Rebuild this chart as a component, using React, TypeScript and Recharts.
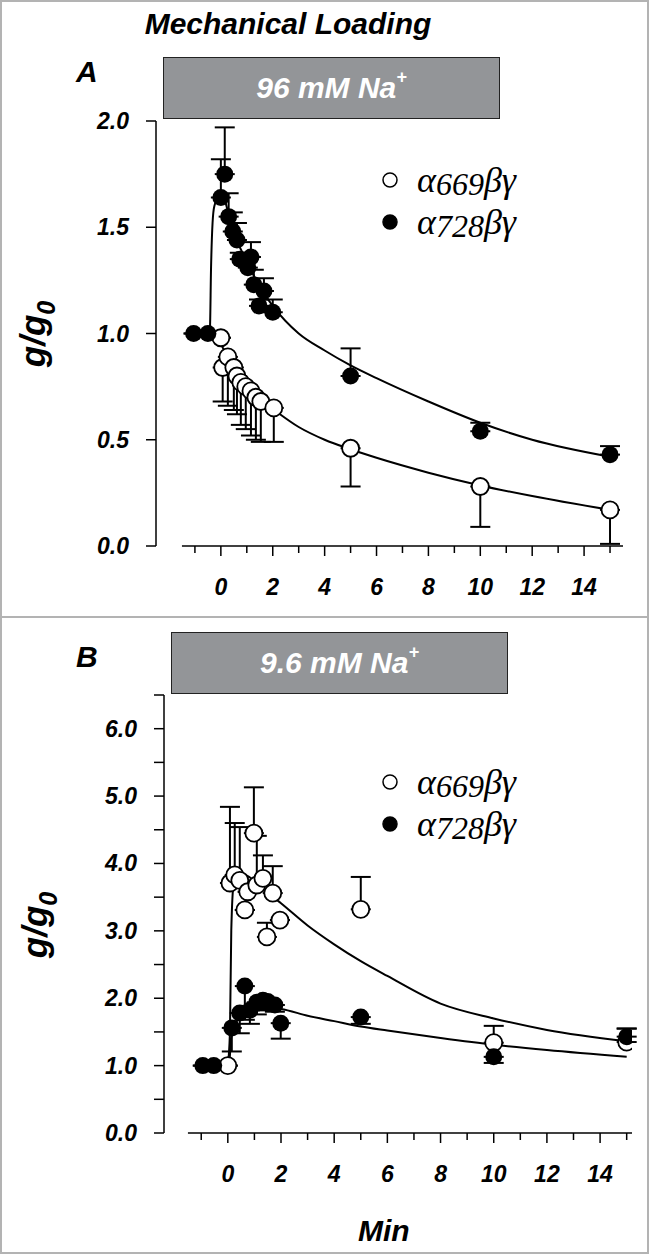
import React from 'react'
import {
  ComposedChart,
  Scatter,
  Line,
  XAxis,
  YAxis,
  ErrorBar,
  ReferenceLine,
} from 'recharts'

// ── data ────────────────────────────────────────────────────────────────────

const xTicks = [-1, 0, 1, 2, 3, 4, 5, 6, 7, 8, 9, 10, 11, 12, 13, 14, 15]
const yTicksA = [0, 0.5, 1, 1.5, 2]
const yTicksB = [0, 0.5, 1, 1.5, 2, 2.5, 3, 3.5, 4, 4.5, 5, 5.5, 6, 6.5]

// Panel A – 96 mM Na+
const a728X = [-1.05, -0.5, 0.0, 0.15, 0.3, 0.46, 0.62, 0.73, 1.04, 1.16, 1.27, 1.47, 1.66, 2.0, 5, 10, 15]
const a728Y = [1.0, 1.0, 1.64, 1.75, 1.55, 1.48, 1.44, 1.35, 1.31, 1.36, 1.23, 1.13, 1.2, 1.1, 0.8, 0.54, 0.43]
const a728Up = [0, 0, 0.18, 0.22, 0.11, 0.09, 0.08, 0.03, 0.03, 0.07, 0.07, 0.03, 0.06, 0.06, 0.13, 0.04, 0.04]

const a669X = [0.0, 0.07, 0.27, 0.5, 0.62, 0.77, 0.96, 1.16, 1.35, 1.54, 2.04, 5, 10, 15]
const a669Y = [0.98, 0.84, 0.89, 0.84, 0.8, 0.77, 0.75, 0.73, 0.7, 0.68, 0.65, 0.46, 0.28, 0.17]
const a669Down = [0, 0.16, 0.23, 0.2, 0.18, 0.2, 0.2, 0.21, 0.2, 0.19, 0.16, 0.18, 0.19, 0.16]

const fitA728X = [-0.5, -0.42, -0.38, -0.32, -0.25, 0, 0.5, 1, 1.5, 2, 3, 4, 5, 6, 8, 10, 12, 15]
const fitA728Y = [1.0, 1.03, 1.3, 1.52, 1.6, 1.66, 1.47, 1.34, 1.22, 1.13, 1.0, 0.92, 0.85, 0.79, 0.68, 0.58, 0.5, 0.42]
const fitA669X = [0, 0.5, 1, 1.5, 2, 3, 4, 5, 6, 8, 10, 12, 15]
const fitA669Y = [0.95, 0.84, 0.76, 0.69, 0.645, 0.56, 0.5, 0.455, 0.415, 0.345, 0.285, 0.235, 0.17]

// Panel B – 9.6 mM Na+
const b669X = [0.0, 0.08, 0.26, 0.45, 0.64, 0.75, 0.98, 1.09, 1.32, 1.47, 1.69, 1.96, 5, 10, 15]
const b669Y = [1.0, 3.71, 3.83, 3.75, 3.31, 3.58, 4.45, 3.68, 3.78, 2.91, 3.56, 3.16, 3.32, 1.34, 1.35]
const b669Up = [0, 1.13, 0.77, 0.79, 0, 0, 0.68, 0.73, 0.34, 0.21, 0.4, 0, 0.48, 0.25, 0.2]

const b728X = [-0.94, -0.53, 0.15, 0.45, 0.64, 0.83, 1.09, 1.32, 1.5, 1.77, 1.99, 5, 10, 15]
const b728Y = [1.0, 1.0, 1.56, 1.78, 2.18, 1.82, 1.94, 1.97, 1.95, 1.9, 1.63, 1.72, 1.13, 1.43]
const b728Down = [0, 0, 0.35, 0.3, 0.5, 0.2, 0.18, 0.15, 0.12, 0.1, 0.23, 0.1, 0.09, 0]
const b728Up = [0, 0, 0, 0, 0, 0, 0, 0, 0, 0, 0, 0, 0, 0.12]

const fitB669X = [0.0, 0.08, 0.13, 0.22, 0.4, 0.8, 1.2, 2, 3, 4, 5, 6, 8, 10, 12, 15]
const fitB669Y = [1.0, 1.5, 3.0, 3.7, 3.86, 3.8, 3.66, 3.41, 3.08, 2.8, 2.55, 2.33, 1.92, 1.7, 1.53, 1.36]
const fitB728X = [-0.5, 0.05, 0.12, 0.25, 0.5, 1, 1.5, 2, 3, 4, 5, 6, 8, 10, 12, 15]
const fitB728Y = [1.0, 1.02, 1.4, 1.6, 1.72, 1.82, 1.86, 1.84, 1.74, 1.66, 1.58, 1.52, 1.41, 1.31, 1.23, 1.13]

// ── helpers ─────────────────────────────────────────────────────────────────

const pts = (xs: number[], ys: number[], lo: number[], hi: number[]) =>
  xs.map((x, i) => ({ x, y: ys[i], err: [lo[i] ?? 0, hi[i] ?? 0] }))
const line = (xs: number[], ys: number[]) => xs.map((x, i) => ({ x, y: ys[i] }))
const zeros = (n: number) => new Array(n).fill(0)

const sans = '"Liberation Sans", Arial, sans-serif'
const serif = '"Liberation Serif", "Times New Roman", serif'
const tickFont = { fontFamily: sans, fontWeight: 700, fontStyle: 'italic', fontSize: 23 }

const OpenDot = (p: any) => (
  <circle cx={p.cx} cy={p.cy} r={8.5} fill="#fff" stroke="#000" strokeWidth={1.8} />
)
const FilledDot = (p: any) => <circle cx={p.cx} cy={p.cy} r={8.5} fill="#000" />

const XTick = (p: any) => {
  const v = p.payload.value
  const major = v % 2 === 0
  return (
    <g>
      <line x1={p.x} x2={p.x} y1={p.y} y2={p.y + (major ? 10 : 7)} stroke="#000" strokeWidth={1.5} />
      {major && (
        <text x={p.x} y={p.y + 49} textAnchor="middle" style={tickFont}>
          {v}
        </text>
      )}
    </g>
  )
}

const makeYTick = (labelEvery: number) => (p: any) => {
  const v = p.payload.value
  const show = Math.abs(v / labelEvery - Math.round(v / labelEvery)) < 1e-6
  return (
    <g>
      <line x1={p.x - 10} x2={p.x} y1={p.y} y2={p.y} stroke="#000" strokeWidth={1.5} />
      {show && (
        <text x={p.x - 27} y={p.y + 8} textAnchor="end" style={tickFont}>
          {v.toFixed(1)}
        </text>
      )}
    </g>
  )
}

function Panel(props: {
  top: number
  margin: { top: number; left: number; right: number; bottom: number }
  xDomain: [number, number]
  xEnd: number
  yDomain: [number, number]
  yTicks: number[]
  labelEvery: number
  open: any[]
  filled: any[]
  openFit: any[]
  filledFit: any[]
}) {
  return (
    <div style={{ position: 'absolute', left: 0, top: props.top }}>
      <ComposedChart width={649} height={600} margin={props.margin}>
        <XAxis
          dataKey="x"
          type="number"
          domain={props.xDomain}
          allowDataOverflow
          ticks={xTicks}
          interval={0}
          axisLine={false}
          tickLine={false}
          tickSize={0}
          tickMargin={0}
          height={30}
          tick={<XTick />}
        />
        <YAxis
          type="number"
          domain={props.yDomain}
          allowDataOverflow
          ticks={props.yTicks}
          interval={0}
          width={60}
          axisLine={{ stroke: '#000', strokeWidth: 1.5 }}
          tickLine={false}
          tickSize={0}
          tickMargin={0}
          tick={makeYTick(props.labelEvery)}
        />
        <ReferenceLine
          segment={[
            { x: -1.5, y: 0 },
            { x: props.xEnd, y: 0 },
          ]}
          stroke="#000"
          strokeWidth={1.5}
        />
        <Line data={props.filledFit} dataKey="y" type="monotone" stroke="#000" strokeWidth={2} dot={false} isAnimationActive={false} />
        <Line data={props.openFit} dataKey="y" type="monotone" stroke="#000" strokeWidth={2} dot={false} isAnimationActive={false} />
        <Scatter data={props.open} dataKey="y" shape={OpenDot} isAnimationActive={false}>
          <ErrorBar dataKey="err" direction="y" width={10} stroke="#000" strokeWidth={2} />
        </Scatter>
        <Scatter data={props.filled} dataKey="y" shape={FilledDot} isAnimationActive={false}>
          <ErrorBar dataKey="err" direction="y" width={10} stroke="#000" strokeWidth={2} />
        </Scatter>
      </ComposedChart>
    </div>
  )
}

const abs = (l: number, t: number, extra: React.CSSProperties = {}): React.CSSProperties => ({
  position: 'absolute',
  left: l,
  top: t,
  ...extra,
})

const bold: React.CSSProperties = { fontFamily: sans, fontWeight: 700, fontStyle: 'italic', color: '#000', whiteSpace: 'nowrap' }

function SaltBox({ left, top, text }: { left: number; top: number; text: string }) {
  return (
    <div
      style={abs(left, top, {
        width: 337,
        height: 62,
        boxSizing: 'border-box',
        background: '#939598',
        border: '1.5px solid #222',
        display: 'flex',
        alignItems: 'center',
        justifyContent: 'center',
        ...bold,
        color: '#fff',
        fontSize: 30,
      })}
    >
      <span>
        {text}
        <sup style={{ fontSize: 18, position: 'relative', top: -4 }}>+</sup>
      </span>
    </div>
  )
}

function LegendRow({ left, top, filled, num }: { left: number; top: number; filled: boolean; num: string }) {
  return (
    <div style={abs(left, top, { display: 'flex', alignItems: 'center', height: 40 })}>
      <svg width={18} height={18} style={{ marginRight: 18 }}>
        <circle cx={9} cy={9} r={7} fill={filled ? '#000' : '#fff'} stroke="#000" strokeWidth={1.5} />
      </svg>
      <span style={{ fontFamily: serif, fontStyle: 'italic', fontSize: 36, lineHeight: '36px', color: '#000', whiteSpace: 'nowrap' }}>
        α<span style={{ fontSize: 32, position: 'relative', top: 3 }}>{num}</span>βγ
      </span>
    </div>
  )
}

function YTitle({ cx, cy }: { cx: number; cy: number }) {
  return (
    <div
      style={abs(cx - 60, cy - 20, {
        width: 120,
        height: 40,
        display: 'flex',
        alignItems: 'center',
        justifyContent: 'center',
        transform: 'rotate(-90deg)',
        ...bold,
        fontSize: 35,
      })}
    >
      <span>
        g/g<sub style={{ fontSize: 25, position: 'relative', top: 2 }}>0</sub>
      </span>
    </div>
  )
}

export default function App() {
  const openA = pts(a669X, a669Y, a669Down, zeros(a669X.length))
  const filledA = pts(a728X, a728Y, zeros(a728X.length), a728Up)
  const openB = pts(b669X, b669Y, zeros(b669X.length), b669Up)
  const filledB = pts(b728X, b728Y, b728Down, b728Up)

  return (
    <div style={{ position: 'absolute', left: 0, top: 0, width: 649, height: 1260, background: '#fff', overflow: 'hidden' }}>
      <div style={abs(0, 0, { width: 649, height: 1254, boxSizing: 'border-box', border: '2px solid #b3b3b3' })} />
      <div style={abs(0, 616, { width: 649, height: 2, background: '#b3b3b3' })} />

      <div style={abs(88, 7, { ...bold, fontSize: 30, width: 400, textAlign: 'center' })}>Mechanical Loading</div>
      <div style={abs(76, 55, { ...bold, fontSize: 30 })}>A</div>
      <div style={abs(76, 640, { ...bold, fontSize: 30 })}>B</div>

      <Panel
        top={0}
        margin={{ top: 121, left: 96, right: 26, bottom: 24 }}
        xDomain={[-2.5, 15.5]}
        xEnd={15.5}
        yDomain={[0, 2]}
        yTicks={yTicksA}
        labelEvery={0.5}
        open={openA}
        filled={filledA}
        openFit={line(fitA669X, fitA669Y)}
        filledFit={line(fitA728X, fitA728Y)}
      />
      <Panel
        top={617}
        margin={{ top: 78, left: 104, right: 17, bottom: 54 }}
        xDomain={[-2.4, 15.2]}
        xEnd={15.2}
        yDomain={[0, 6.5]}
        yTicks={yTicksB}
        labelEvery={1}
        open={openB}
        filled={filledB}
        openFit={line(fitB669X, fitB669Y)}
        filledFit={line(fitB728X, fitB728Y)}
      />

      <SaltBox left={163} top={57} text="96 mM Na" />
      <SaltBox left={171} top={632} text="9.6 mM Na" />

      <LegendRow left={381} top={160} filled={false} num="669" />
      <LegendRow left={381} top={202} filled num="728" />
      <LegendRow left={381} top={762} filled={false} num="669" />
      <LegendRow left={381} top={804} filled num="728" />

      <YTitle cx={36} cy={334} />
      <YTitle cx={38} cy={925} />

      <div style={abs(358, 1214, { ...bold, fontSize: 30 })}>Min</div>
    </div>
  )
}
